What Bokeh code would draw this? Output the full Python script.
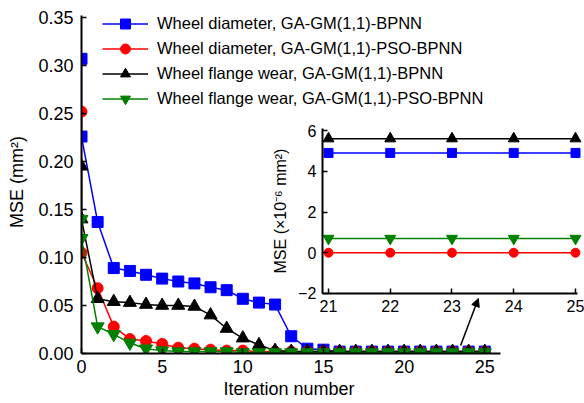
from bokeh.plotting import figure
from bokeh.models import (Range1d, LinearAxis, FixedTicker, Legend, LegendItem,
                          Arrow, NormalHead, PrintfTickFormatter, Title)
from bokeh.embed import file_html
from bokeh.resources import INLINE

# ---------------- data ----------------
iteration = [0, 0] + list(range(1, 26))

wd_ga_bpnn = [0.307, 0.226, 0.137, 0.089, 0.086, 0.082, 0.078, 0.075, 0.073, 0.069,
              0.066, 0.057, 0.053, 0.051, 0.018, 0.005, 0.004, 0.002, 0.002, 0.002,
              0.002, 0.002, 0.002, 0.002, 0.002, 0.002, 0.002]
wd_ga_pso_bpnn = [0.252, 0.105, 0.068, 0.028, 0.015, 0.013, 0.010, 0.006, 0.005, 0.004,
                  0.003, 0.003, 0.002, 0.002, 0.002, 0.002, 0.002, 0.002, 0.002, 0.002,
                  0.002, 0.002, 0.002, 0.002, 0.002, 0.002, 0.002]
fw_ga_bpnn = [0.195, 0.140, 0.057, 0.054, 0.053, 0.051, 0.050, 0.050, 0.049, 0.040,
              0.026, 0.016, 0.009, 0.003, 0.002, 0.002, 0.002, 0.002, 0.002, 0.002,
              0.002, 0.002, 0.002, 0.002, 0.002, 0.002, 0.002]
fw_ga_pso_bpnn = [0.140, 0.120, 0.028, 0.020, 0.011, 0.005, 0.003, 0.002, 0.002, 0.002,
                  0.002, 0.001, 0.001, 0.001, 0.001, 0.001, 0.001, 0.001, 0.001, 0.001,
                  0.001, 0.001, 0.001, 0.001, 0.001, 0.001, 0.001]

inset_iteration = [21, 22, 23, 24, 25]
inset_wd_ga_bpnn = [4.9, 4.9, 4.9, 4.9, 4.9]
inset_wd_ga_pso_bpnn = [0.0, 0.0, 0.0, 0.0, 0.0]
inset_fw_ga_bpnn = [5.6, 5.6, 5.6, 5.6, 5.6]
inset_fw_ga_pso_bpnn = [0.7, 0.7, 0.7, 0.7, 0.7]

labels = ["Wheel diameter, GA-GM(1,1)-BPNN",
          "Wheel diameter, GA-GM(1,1)-PSO-BPNN",
          "Wheel flange wear, GA-GM(1,1)-BPNN",
          "Wheel flange wear, GA-GM(1,1)-PSO-BPNN"]
x_ticks = [0, 5, 10, 15, 20, 25]
y_ticks = [0.0, 0.05, 0.10, 0.15, 0.20, 0.25, 0.30, 0.35]
inset_x_ticks = [21, 22, 23, 24, 25]
inset_y_ticks = [-2, 0, 2, 4, 6]

# ---------------- styling ----------------
FONT = "Liberation Sans"
colors = ["#0000ff", "#ff0000", "#000000", "#008000"]
markers = ["square", "circle", "triangle", "inverted_triangle"]
sizes = [11, 11, 13, 13]
inset_sizes = [9, 9, 11, 11]

p = figure(width=584, height=403, output_backend="svg", toolbar_location=None,
           x_range=Range1d(0, 31.18), y_range=Range1d(0, 0.3573),
           min_border_left=81, min_border_right=0, min_border_top=10,
           min_border_bottom=50)
p.outline_line_color = None
p.grid.visible = False
p.background_fill_color = "white"

p.extra_x_ranges = {"ix": Range1d(17.0, 25.146)}
p.extra_y_ranges = {"iy": Range1d(-4.945, 11.89)}


def style_axis(ax, tick_size, label_size):
    ax.axis_line_color = "black"
    ax.axis_line_width = 2
    ax.major_tick_line_color = "black"
    ax.major_tick_line_width = 1.5
    ax.major_tick_in = 5
    ax.major_tick_out = 0
    ax.minor_tick_line_color = None
    ax.major_label_text_font = FONT
    ax.major_label_text_font_size = tick_size
    ax.major_label_text_color = "black"
    ax.axis_label_text_font = FONT
    ax.axis_label_text_font_size = label_size
    ax.axis_label_text_font_style = "normal"
    ax.axis_label_text_color = "black"


xa = p.xaxis[0]
xa.ticker = FixedTicker(ticks=x_ticks)
xa.bounds = (0, 26)
style_axis(xa, "18px", "18px")
xa.major_label_standoff = 6

ya = p.yaxis[0]
ya.ticker = FixedTicker(ticks=y_ticks)
ya.formatter = PrintfTickFormatter(format="%.2f")
ya.bounds = (0, 0.352)
ya.axis_label = "MSE (mm²)"
style_axis(ya, "18px", "18px")
ya.major_label_standoff = 8
ya.axis_label_standoff = 8

# x-axis title, centred under the drawn axis (0..26) rather than the wider frame
xtitle = Title(text="Iteration number", align="left", offset=142, standoff=3,
               text_font=FONT, text_font_size="18px", text_font_style="normal",
               text_color="black")
p.add_layout(xtitle, "below")

# main series
series = [wd_ga_bpnn, wd_ga_pso_bpnn, fw_ga_bpnn, fw_ga_pso_bpnn]
items = []
for vals, c, m, s, lab in zip(series, colors, markers, sizes, labels):
    lr = p.line(iteration, vals, line_color=c, line_width=1.5)
    sr = p.scatter(iteration, vals, marker=m, size=s, fill_color=c, line_color=c)
    items.append(LegendItem(label=lab, renderers=[lr, sr]))

# inset series
inset_series = [inset_wd_ga_bpnn, inset_wd_ga_pso_bpnn, inset_fw_ga_bpnn, inset_fw_ga_pso_bpnn]
for vals, c, m, s in zip(inset_series, colors, markers, inset_sizes):
    p.line(inset_iteration, vals, line_color=c, line_width=1.5,
           x_range_name="ix", y_range_name="iy")
    p.scatter(inset_iteration, vals, marker=m, size=s, fill_color=c, line_color=c,
              x_range_name="ix", y_range_name="iy")

iy_axis = LinearAxis(x_range_name="ix", y_range_name="iy", fixed_location=20.9,
                     bounds=(-2, 6.1), ticker=FixedTicker(ticks=inset_y_ticks),
                     axis_label="MSE (×10⁻⁶ mm²)",
                     major_label_overrides={-2: "−2"})
style_axis(iy_axis, "16px", "16px")
iy_axis.major_label_standoff = 6
iy_axis.axis_label_standoff = 6
p.add_layout(iy_axis, "left")

ix_axis = LinearAxis(x_range_name="ix", y_range_name="iy", fixed_location=-2,
                     bounds=(20.9, 25.03), ticker=FixedTicker(ticks=inset_x_ticks))
style_axis(ix_axis, "16px", "16px")
ix_axis.major_label_standoff = 7
p.add_layout(ix_axis, "below")

# arrow pointing to inset
p.add_layout(Arrow(end=NormalHead(size=8, fill_color="black", line_color="black"),
                   x_start=23.5, y_start=0.0083, x_end=24.6, y_end=0.0573,
                   line_color="black", line_width=1.5))

legend = Legend(items=items, location=(21, 242))
legend.border_line_color = None
legend.background_fill_alpha = 0
legend.label_text_font = FONT
legend.label_text_font_size = "16.5px"
legend.label_text_color = "black"
legend.glyph_width = 46
legend.glyph_height = 25
legend.label_height = 25
legend.spacing = 0
legend.padding = 0
legend.margin = 0
legend.label_standoff = 9
p.add_layout(legend)

open("out.html", "w").write(file_html(p, INLINE))
